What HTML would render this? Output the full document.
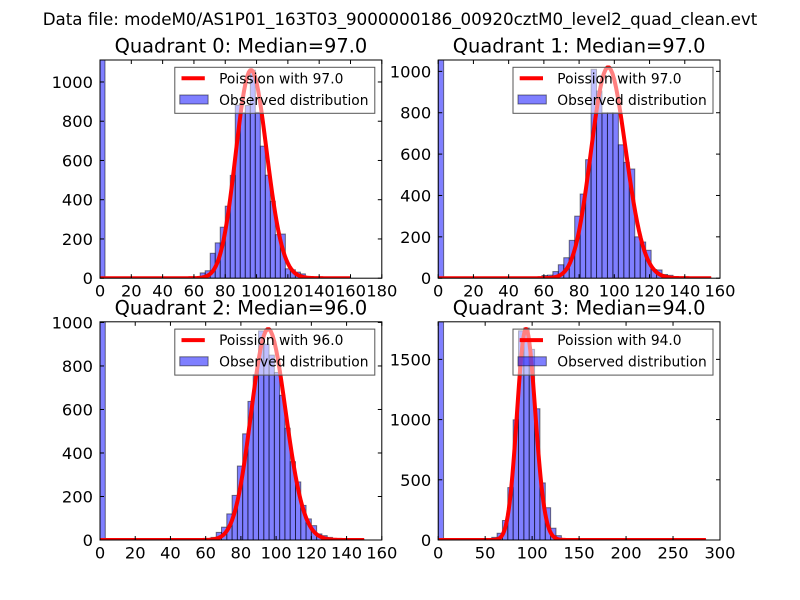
<!DOCTYPE html>
<html><head><meta charset="utf-8"><style>
html,body{margin:0;padding:0;background:#fff;}
svg{display:block;font-family:"DejaVu Sans","Liberation Sans",sans-serif;}
</style></head><body>
<svg id="fig" width="800" height="600" viewBox="0 0 800 600" xmlns="http://www.w3.org/2000/svg">
<rect width="800" height="600" fill="#fff"/>
<text x="400" y="25" text-anchor="middle" font-size="16.7">Data file: modeM0/AS1P01_163T03_9000000186_00920cztM0_level2_quad_clean.evt</text>
</svg>
<script>
// ---- data ----
const titles = ["Quadrant 0: Median=97.0","Quadrant 1: Median=97.0","Quadrant 2: Median=96.0","Quadrant 3: Median=94.0"];
const medians = [97.0, 97.0, 96.0, 94.0];
const curvePeaks = [1060, 1019, 969, 1751];
const dataMax = [160, 155, 150, 285];
const binWidths = [3.2, 3.1, 3.0, 5.7];
const xMaxes = [180, 160, 160, 300];
const yMaxes = [1112, 1055, 1003, 1812];
const xTicks0 = [0,20,40,60,80,100,120,140,160,180];
const xTicks1 = [0,20,40,60,80,100,120,140,160];
const xTicks2 = [0,20,40,60,80,100,120,140,160];
const xTicks3 = [0,50,100,150,200,250,300];
const yTicks0 = [0,200,400,600,800,1000];
const yTicks1 = [0,200,400,600,800,1000];
const yTicks2 = [0,200,400,600,800,1000];
const yTicks3 = [0,500,1000,1500];
const counts0 = [1112,0,0,0,0,0,0,0,0,0, 0,0,0,0,0,0,0,0,0,2, 27,38,127,180,260,367,524,882,843,880, 1060,845,673,525,392,222,225,48,43,31, 22,8,4,2,1,1,0,0,0,1];
const counts1 = [1055,0,0,0,0,0,0,0,0,0, 0,0,0,0,0,0,0,0,3,13, 15,32,65,99,183,300,407,573,1010,905, 800,800,800,645,560,528,200,175,135,42, 40,18,14,8,4,2,1,0,0,1];
const counts2 = [1003,0,0,0,0,0,0,0,0,0, 0,0,0,0,0,0,0,0,0,1, 3,12,35,59,120,205,340,488,637,760, 961,900,850,770,665,514,360,267,159,97, 66,28,20,12,5,3,1,0,0,1];
const counts3 = [1812,0,0,0,0,0,0,0,0,2, 22,56,162,435,998,1737,1760,1583,1090,474, 268,98,36,12,4,2,1,0,0,0, 0,0,0,0,0,0,0,0,0,0, 0,0,0,0,0,0,0,0,0,1];
const xTicksAll = [xTicks0,xTicks1,xTicks2,xTicks3];
const yTicksAll = [yTicks0,yTicks1,yTicks2,yTicks3];
const countsAll = [counts0,counts1,counts2,counts3];

// ---- layout ----
const NS = "http://www.w3.org/2000/svg";
const fig = document.getElementById("fig");
const AX = [[100,60],[438.2,60],[100,321.8],[438.2,321.8]];
const AW = 281.8, AH = 218.2;
function el(tag, attrs, parent){ const e=document.createElementNS(NS,tag); for(const k in attrs) e.setAttribute(k,attrs[k]); (parent||fig).appendChild(e); return e; }
function lgamma(n){ let s=0; for(let i=2;i<=n;i++) s+=Math.log(i); return s; }
function pmf(k,l){ return Math.exp(k*Math.log(l)-l-lgamma(k)); }

for(let q=0;q<4;q++){
  const [x0,y0]=AX[q];
  const xs = v => x0 + v/xMaxes[q]*AW;
  const ys = v => y0 + AH - v/yMaxes[q]*AH;
  const g = el("g",{});
  
  
  const clipId="clip"+q;
  const cp=el("clipPath",{id:clipId},g); el("rect",{x:x0,y:y0,width:AW,height:AH},cp);
  const t = el("text",{x:x0+AW/2,y:y0-7.5,"text-anchor":"middle","font-size":"19.4"},g);
  t.textContent=titles[q];
  
  
  const plot = el("g",{"clip-path":"url(#"+clipId+")"},g);
  const c=countsAll[q], bw=binWidths[q];
  for(let i=0;i<c.length;i++){
    if(c[i]<=0) continue;
    const bx=xs(i*bw), bx2=xs((i+1)*bw), by=ys(c[i]);
    const r=el("rect",{x:bx,y:by,width:bx2-bx,height:ys(0)-by,fill:"#0000ff","fill-opacity":"0.5",stroke:"#000","stroke-opacity":"0.5","stroke-width":"1"},plot);
    
    
  }
  const lam=medians[q], pk=pmf(Math.floor(lam),lam);
  let d="";
  for(let k=0;k<=dataMax[q];k++){ const v=curvePeaks[q]*pmf(k,lam)/pk; d+=(k?"L":"M")+xs(k).toFixed(2)+","+ys(v).toFixed(2); }
  const pth=el("path",{d:d,fill:"none",stroke:"#ff0000","stroke-width":"4","stroke-linejoin":"round"},plot);
  
  
  const fr=el("rect",{x:x0,y:y0,width:AW,height:AH,fill:"none",stroke:"#000","stroke-width":"1"},g);
  
  
  xTicksAll[q].forEach(v=>{
    const X=xs(v);
    el("line",{x1:X,y1:y0+AH,x2:X,y2:y0+AH-4,stroke:"#000"},g);
    el("line",{x1:X,y1:y0,x2:X,y2:y0+4,stroke:"#000"},g);
    const tl=el("text",{x:X,y:y0+AH+18.5,"text-anchor":"middle","font-size":"16.3"},g);
    tl.textContent=v;
    
    
  });
  yTicksAll[q].forEach(v=>{
    const Y=ys(v);
    el("line",{x1:x0,y1:Y,x2:x0+4,y2:Y,stroke:"#000"},g);
    el("line",{x1:x0+AW,y1:Y,x2:x0+AW-4,y2:Y,stroke:"#000"},g);
    const tl=el("text",{x:x0-7,y:Y+6,"text-anchor":"end","font-size":"16.3"},g);
    tl.textContent=v;
    
    
  });
  const lx=x0+AW-207, ly=y0+7.3;
  const lg=el("g",{},g);
  
  
  el("rect",{x:lx,y:ly,width:200,height:46,fill:"#fff","fill-opacity":"0.5",stroke:"#555","stroke-width":"1"},lg);
  el("line",{x1:lx+6.7,y1:ly+11,x2:lx+30,y2:ly+11,stroke:"#ff0000","stroke-width":"4"},lg);
  const t1=el("text",{x:lx+44.3,y:ly+16,"font-size":"13.8"},lg); t1.textContent="Poission with "+medians[q].toFixed(1);
  
  
  el("rect",{x:lx+5,y:ly+27.7,width:28.3,height:9,fill:"#0000ff","fill-opacity":"0.5",stroke:"#000","stroke-opacity":"0.5"},lg);
  const t2=el("text",{x:lx+44.3,y:ly+37.5,"font-size":"13.8"},lg); t2.textContent="Observed distribution";
  
  
}
</script>
</body></html>
